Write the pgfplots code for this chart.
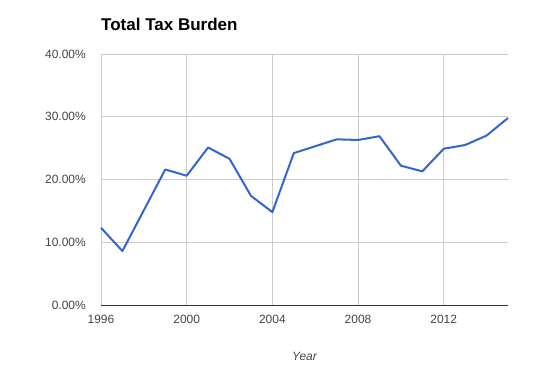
\documentclass[border=0pt]{standalone}
\usepackage{pgfplots}
\pgfplotsset{compat=1.18}
\usepackage{fontspec}
\setmainfont{Liberation Sans}
\definecolor{lineblue}{HTML}{3366CC}
\definecolor{gridgray}{HTML}{CCCCCC}
\definecolor{labgray}{HTML}{444444}
\definecolor{axisdark}{HTML}{333333}
\begin{document}
\begin{tikzpicture}[x=1pt,y=1pt]
\useasboundingbox (0,0) rectangle (551,375);
\node[anchor=base west,inner sep=0pt,font=\fontsize{17}{20}\selectfont\bfseries] at (101,344) {Total Tax Burden};
\begin{axis}[
  at={(101pt,70pt)}, anchor=south west,
  scale only axis, width=407pt, height=251pt,
  xmin=1996, xmax=2015, ymin=0, ymax=40,
  xtick={1996,2000,2004,2008,2012},
  xticklabels={1996,2000,2004,2008,2012},
  ytick={0,10,20,30,40},
  yticklabels={0.00\%,10.00\%,20.00\%,30.00\%,40.00\%},
  grid=major, major grid style={draw=gridgray,line width=1pt},
  axis line style={draw=none},
  major tick length=0pt,
  tick style={draw=none},
  tick label style={font=\fontsize{12}{14}\selectfont, text=labgray, inner sep=0pt},
  yticklabel style={anchor=east, xshift=-15pt},
  xticklabel style={anchor=north, yshift=-10pt},
  xlabel={Year},
  xlabel style={at={(axis description cs:0.5,0)}, anchor=base, yshift=-55pt,
    font=\fontsize{12}{14}\selectfont\itshape, text=labgray, inner sep=0pt},
  clip=false,
]
\draw[axisdark, line width=1pt] (axis cs:1996,0) -- (axis cs:2015,0);
\addplot[lineblue, line width=2pt, line join=round, mark=none] coordinates {
(1996,12.3) (1997,8.6) (1998,15.1) (1999,21.6) (2000,20.6) (2001,25.1)
(2002,23.3) (2003,17.4) (2004,14.8) (2005,24.2) (2006,25.3) (2007,26.4)
(2008,26.3) (2009,26.9) (2010,22.2) (2011,21.3) (2012,24.9) (2013,25.5)
(2014,27.0) (2015,29.8)
};
\end{axis}
\end{tikzpicture}
\end{document}
